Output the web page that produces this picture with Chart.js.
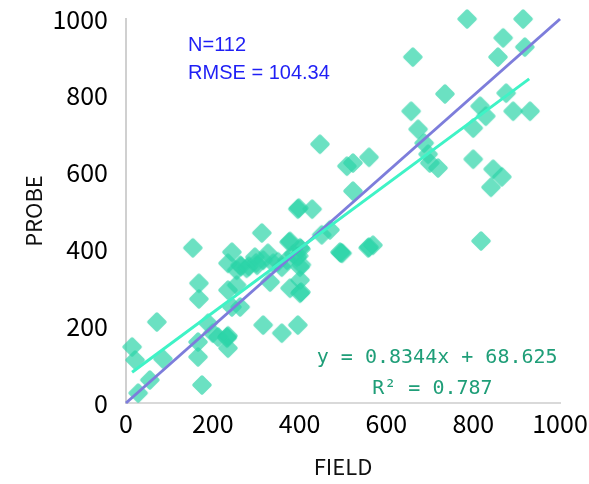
<!DOCTYPE html>
<html>
<head>
<meta charset="utf-8">
<script src="https://cdn.jsdelivr.net/npm/chart.js@4.4.0/dist/chart.umd.min.js"></script>
<style>
html,body{margin:0;padding:0;background:#fff;}
#wrap{width:589px;height:484px;}
</style>
</head>
<body>
<div id="wrap"><canvas id="c" width="589" height="484"></canvas></div>
<script>
// ---- data ----
const fieldValues = [786,915,869,919,857,661,735,876,657,816,829,892,931,673,800,687,696,700,719,800,846,866,841,509,523,560,523,447,396,429,313,154,244,376,401,451,470,498,235,263,278,297,302,327,339,359,371,394,401,316,255,332,401,378,401,235,255,168,168,244,263,71,189,316,359,396,166,200,212,233,235,14,21,85,166,55,28,175,493,569,558,818,
  398,403,378,403,235,495,265,404,386,350,283,300,398,560,233];
const probeValues = [1000,1000,951,927,901,901,805,807,760,773,747,760,760,713,716,677,648,625,612,635,609,589,562,617,625,640,552,674,505,505,443,404,393,419,404,438,451,390,364,359,351,380,359,390,364,354,372,380,354,372,346,315,320,299,286,294,307,312,271,250,250,211,208,203,182,203,159,182,172,172,143,146,112,115,120,60,26,47,393,411,404,422,
  508,401,421,289,175,391,356,360,388,368,356,365,383,406,169];
const oneToOneX = [0, 1000];
const oneToOneY = [0, 1000];
const trendX = [14, 929];
const trendY = [80, 844];
const tickValues = [0, 200, 400, 600, 800, 1000];
const tickLabels = ["0", "200", "400", "600", "800", "1000"];
const statLines = ["N=112", "RMSE = 104.34"];
const eqLines = ["y = 0.8344x + 68.625", "R² = 0.787"];

const points = fieldValues.map((x, i) => ({x: x, y: probeValues[i]}));
const oneToOne = oneToOneX.map((x, i) => ({x: x, y: oneToOneY[i]}));
const trend = trendX.map((x, i) => ({x: x, y: trendY[i]}));

// rounded diamond marker
function makeMarker() {
  const c = document.createElement('canvas');
  c.width = 22; c.height = 22;
  const g = c.getContext('2d');
  const cx = 11, cy = 11, r = 8;
  g.beginPath();
  g.moveTo(cx - r, cy); g.lineTo(cx, cy - r); g.lineTo(cx + r, cy); g.lineTo(cx, cy + r); g.closePath();
  g.lineJoin = 'round'; g.lineWidth = 3.5;
  g.fillStyle = '#000'; g.strokeStyle = '#000';
  g.fill(); g.stroke();
  g.globalCompositeOperation = 'source-in';
  g.fillStyle = 'rgba(44,212,168,0.7)';
  g.fillRect(0, 0, 22, 22);
  return c;
}
const marker = makeMarker();

const tickText = (v) => { const i = tickValues.indexOf(v); return i >= 0 ? tickLabels[i] : ''; };

const textPlugin = {
  id: 'texts',
  afterDatasetsDraw(chart) {
    const ctx = chart.ctx;
    const xs = chart.scales.x, ys = chart.scales.y;
    ctx.save();
    ctx.fillStyle = '#1f1ff5';
    ctx.font = '20px "Liberation Sans", Arial, sans-serif';
    ctx.textAlign = 'left';
    ctx.textBaseline = 'middle';
    ctx.fillText(statLines[0], xs.getPixelForValue(143), ys.getPixelForValue(932));
    ctx.fillText(statLines[1], xs.getPixelForValue(143), ys.getPixelForValue(858));
    ctx.fillStyle = '#1f9e78';
    ctx.font = '20px "DejaVu Sans Mono", monospace';
    ctx.textAlign = 'center';
    ctx.fillText(eqLines[0], xs.getPixelForValue(717), ys.getPixelForValue(119));
    ctx.fillText(eqLines[1], xs.getPixelForValue(706), ys.getPixelForValue(38));
    ctx.restore();
  }
};

new Chart(document.getElementById('c'), {
  type: 'scatter',
  data: {
    datasets: [
      {
        type: 'line', data: trend, borderColor: '#3ff3c6', borderWidth: 3,
        pointRadius: 0, fill: false, clip: false
      },
      {
        type: 'line', data: oneToOne, borderColor: '#7d7ddb', borderWidth: 3,
        pointRadius: 0, fill: false, clip: false
      },
      {
        data: points, pointStyle: marker, pointRadius: 9, clip: false,
        backgroundColor: 'rgba(44,212,168,0.7)', borderWidth: 0
      }
    ]
  },
  options: {
    responsive: false,
    animation: false,
    devicePixelRatio: 1,
    layout: {padding: {top: 19, right: 29, left: 0, bottom: 0}},
    plugins: {legend: {display: false}, tooltip: {enabled: false}},
    scales: {
      x: {
        type: 'linear', min: 0, max: 1000,
        afterBuildTicks: (s) => { s.ticks = tickValues.map(v => ({value: v})); },
        afterFit: (s) => { s.height = 81; s.paddingLeft = 0; s.paddingRight = 0; },
        grid: {display: false, drawTicks: false},
        border: {display: true, color: '#d9d9d9', width: 2},
        ticks: {color: '#000', padding: 5, callback: tickText,
          font: {family: '"Noto Sans CJK JP"', size: 25}},
        title: {display: true, text: 'FIELD', color: '#111', padding: {top: 0, bottom: 4},
          font: {family: '"Noto Sans CJK JP"', size: 22}}
      },
      y: {
        type: 'linear', min: 0, max: 1000,
        afterBuildTicks: (s) => { s.ticks = tickValues.map(v => ({value: v})); },
        afterFit: (s) => { s.width = 126; s.paddingTop = 0; s.paddingBottom = 0; },
        grid: {display: false, drawTicks: false},
        border: {display: true, color: '#d0d0d0', width: 2},
        ticks: {color: '#000', padding: 18, callback: tickText,
          font: {family: '"Noto Sans CJK JP"', size: 25}},
        title: {display: true, text: 'PROBE', color: '#111', padding: {top: 20, bottom: 0},
          font: {family: '"Noto Sans CJK JP"', size: 22}}
      }
    }
  },
  plugins: [textPlugin]
});
</script>
</body>
</html>
